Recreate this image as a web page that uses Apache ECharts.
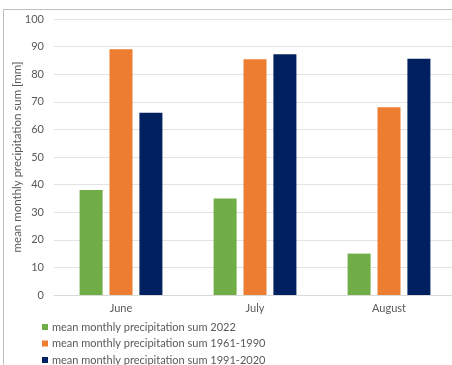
<!DOCTYPE html>
<html>
<head>
<meta charset="utf-8">
<script src="https://cdn.jsdelivr.net/npm/echarts@6/dist/echarts.min.js"></script>
<style>
  html, body { margin: 0; padding: 0; background: #ffffff; }
  #chart { width: 452px; height: 365px; }
</style>
</head>
<body>
<div id="chart"></div>
<script>
// Months on the category axis
const months = ['June', 'July', 'August'];

// Mean monthly precipitation sums [mm]
const precip2022 = [38, 35, 15];
const precip1961_1990 = [89, 85.4, 68];
const precip1991_2020 = [66, 87.2, 85.6];

const seriesNames = [
  'mean monthly precipitation sum 2022',
  'mean monthly precipitation sum 1961-1990',
  'mean monthly precipitation sum 1991-2020'
];

const yTicks = { min: 0, max: 100, step: 10 };

const textColor = '#595959';
const fontFamily = 'Lato, "Open Sans", sans-serif';

// One legend block per series, stacked as rows
const legendRowTop = [321.5, 338, 354.5];
const legends = seriesNames.map((name, i) => ({
  left: 42,
  top: legendRowTop[i],
  padding: 0,
  itemWidth: 6,
  itemHeight: 6,
  icon: 'rect',
  textStyle: { color: textColor, fontSize: 11, fontFamily: fontFamily, padding: [0, 0, 0, -1] },
  data: [name]
}));

const chart = echarts.init(document.getElementById('chart'), null, { renderer: 'canvas' });

chart.setOption({
  backgroundColor: '#ffffff',
  animation: false,
  textStyle: { fontFamily: fontFamily },
  graphic: [{
    type: 'rect',
    shape: { x: 3.5, y: 9.5, width: 460, height: 370 },
    style: { fill: 'none', stroke: '#bfbfbf', lineWidth: 1 },
    z: -1
  }],
  // plot area runs a little past the right edge of the canvas
  grid: { left: 54, width: 402, top: 19, height: 276, outerBoundsMode: 'none', containLabel: false },
  legend: legends,
  xAxis: {
    type: 'category',
    data: months,
    axisLine: { lineStyle: { color: '#d9d9d9' } },
    axisTick: { show: false },
    axisLabel: { color: textColor, fontSize: 11, margin: 8 }
  },
  yAxis: {
    type: 'value',
    min: yTicks.min,
    max: yTicks.max,
    interval: yTicks.step,
    name: 'mean monthly precipitation sum [mm]',
    nameLocation: 'middle',
    nameRotate: 90,
    nameGap: 37,
    nameMoveOverlap: false,
    nameTextStyle: { color: textColor, fontSize: 11.5, verticalAlign: 'middle' },
    axisLine: { show: false },
    axisTick: { show: false },
    axisLabel: { color: textColor, fontSize: 11, margin: 10 },
    splitLine: { lineStyle: { color: '#e3e3e3' } }
  },
  series: [
    { name: seriesNames[0], type: 'bar', data: precip2022, itemStyle: { color: '#70ad47' }, barWidth: 23, barGap: '30%' },
    { name: seriesNames[1], type: 'bar', data: precip1961_1990, itemStyle: { color: '#ed7d31' }, barWidth: 23, barGap: '30%' },
    { name: seriesNames[2], type: 'bar', data: precip1991_2020, itemStyle: { color: '#002060' }, barWidth: 23, barGap: '30%' }
  ]
});
</script>
</body>
</html>
